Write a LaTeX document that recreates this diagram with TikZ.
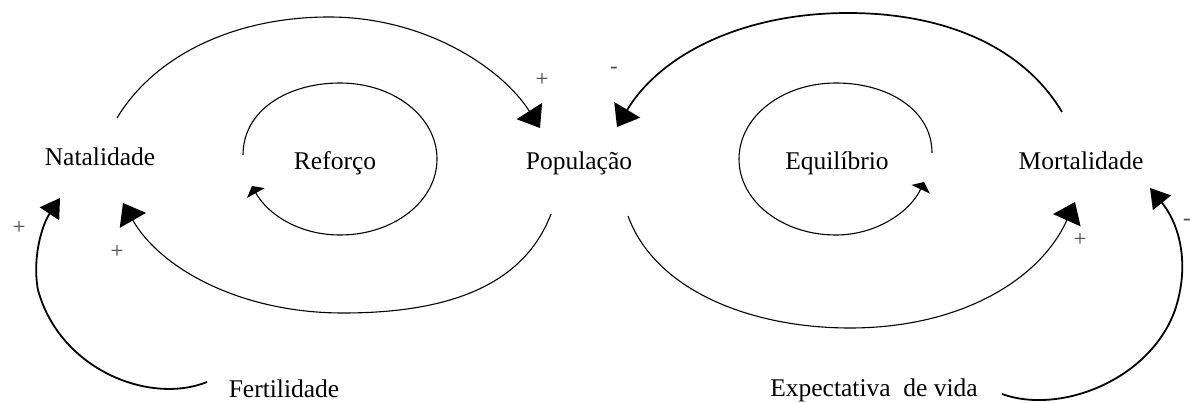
\documentclass[tikz,border=0pt]{standalone}
\usepackage{fontspec}
\setmainfont{Liberation Serif}
\usetikzlibrary{arrows.meta}
\begin{document}
\begin{tikzpicture}[x=1pt,y=-1pt,
  var/.style={inner sep=0pt, anchor=base, font=\fontsize{25.5}{30}\selectfont},
  sgn/.style={inner sep=0pt, font=\fontsize{23}{26}\selectfont, text=black!70},
  link/.style={line width=1.1pt, -{Triangle[length=20pt,width=30pt]}},
  sidelink/.style={line width=1.8pt, -{Triangle[length=19pt,width=23pt]}},
  loopsym/.style={line width=1.1pt, -{Triangle[length=8pt,width=20pt]}}]
\useasboundingbox[fill=white] (0,0) rectangle (1190,403);

% variables
\node[var] (nat) at (100,166) {Natalidade};
\node[var] (ref) at (335,170) {Reforço};
\node[var] (pop) at (579,170) {População};
\node[var] (equ) at (837,170) {Equilíbrio};
\node[var] (mor) at (1081,170) {Mortalidade};
\node[var] (fer) at (284,397) {Fertilidade};
\node[var] (exv) at (874,396) {Expectativa~ de vida};

% connector end points
\coordinate (natOut) at (117,118);
\coordinate (natInA) at (123,203);
\coordinate (natInB) at (60,198);
\coordinate (popInA) at (540,128);
\coordinate (popOutA) at (551,214);
\coordinate (popInB) at (617,127);
\coordinate (popOutB) at (628,216);
\coordinate (morOut) at (1062,112);
\coordinate (morInA) at (1075,202);
\coordinate (morInB) at (1150,188);
\coordinate (ferOut) at (207,382);
\coordinate (exvOut) at (1002,394);

% reinforcing loop
\draw[link] (natOut) .. controls (155,55) and (235,17) .. (329,17)
  .. controls (425,17) and (502,68) .. (popInA);
\draw[link] (popOutA) .. controls (522,290) and (440,313) .. (343,313)
  .. controls (240,313) and (160,268) .. (natInA);

% balancing loop
\draw[link, line width=1.7pt] (morOut) .. controls (1022,45) and (942,13) .. (848,13)
  .. controls (742,13) and (660,55) .. (popInB);
\draw[link] (popOutB) .. controls (655,290) and (750,328) .. (850,328)
  .. controls (960,328) and (1040,280) .. (morInA);

% external influences
\draw[sidelink] (ferOut) .. controls (150,405) and (60,370) .. (38,290)
  .. controls (32,258) and (42,225) .. (natInB);
\draw[sidelink] (exvOut) .. controls (1060,415) and (1150,380) .. (1175,310)
  .. controls (1190,265) and (1180,225) .. (morInB);

% loop symbols
\draw[loopsym] (243,155) .. controls (243,110) and (288,83) .. (340,83)
  .. controls (394,83) and (437,117) .. (437,159)
  .. controls (437,201) and (394,235) .. (340,235)
  .. controls (300,235) and (268,215) .. (252,186);
\draw[loopsym] (932,153) .. controls (932,110) and (888,83) .. (836,83)
  .. controls (782,83) and (739,117) .. (739,159)
  .. controls (739,201) and (782,235) .. (836,235)
  .. controls (876,235) and (910,212) .. (924,182);

% polarities
\node[sgn] (s1) at (542,80) {+};
\node[sgn] (s2) at (614,70) {-};
\node[sgn] (s3) at (19,228) {+};
\node[sgn] (s4) at (117,252) {+};
\node[sgn] (s5) at (1080,240) {+};
\node[sgn] (s6) at (1187,222) {-};
\end{tikzpicture}
\end{document}
